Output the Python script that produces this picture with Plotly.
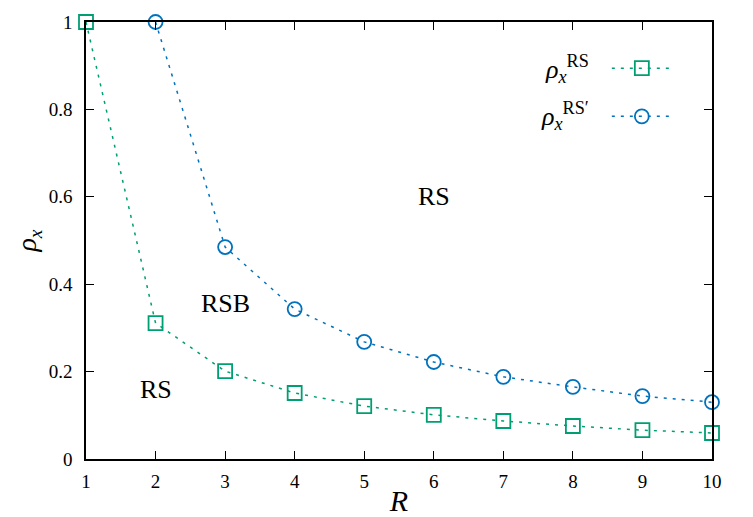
import plotly.graph_objects as go

R = [1, 2, 3, 4, 5, 6, 7, 8, 9, 10]
rho_rs = [1.0, 0.311, 0.201, 0.151, 0.121, 0.101, 0.087, 0.0755, 0.066, 0.0595]
R2 = [2, 3, 4, 5, 6, 7, 8, 9, 10]
rho_rs_prime = [1.0, 0.485, 0.343, 0.268, 0.222, 0.188, 0.165, 0.144, 0.130]

green = "#009e73"
blue = "#0072bd"
FONT = "Liberation Serif"

fig = go.Figure()
fig.add_trace(go.Scatter(
    x=R, y=rho_rs, mode="lines+markers", name="\u2009", legendgroup="a",
    line=dict(color=green, width=1.5, dash="3px,6px"),
    marker=dict(symbol="square-open", size=14, color=green, line=dict(width=1.8)),
    cliponaxis=False,
))
fig.add_trace(go.Scatter(
    x=R2, y=rho_rs_prime, mode="lines+markers", name="\u2009", legendgroup="b",
    line=dict(color=blue, width=1.5, dash="3px,6px"),
    marker=dict(symbol="circle-open", size=14, color=blue, line=dict(width=1.8)),
    cliponaxis=False,
))

axis_common = dict(
    showline=True, linecolor="black", linewidth=1.5, mirror="ticks",
    ticks="inside", ticklen=8, tickwidth=1.2, tickcolor="black",
    showgrid=False, zeroline=False, automargin=False,
    tickfont=dict(family=FONT, size=19, color="black"),
)
fig.update_xaxes(range=[1, 10], dtick=1, tick0=1, ticklabelstandoff=4,
                 title=dict(text="<i>R</i>", font=dict(family=FONT, size=30, color="black"), standoff=2),
                 **axis_common)
fig.update_yaxes(range=[0, 1], dtick=0.2, ticklabelstandoff=8,
                 title=dict(text="<i>ρ<sub>x</sub></i>", font=dict(family=FONT, size=28, color="black"), standoff=4),
                 **axis_common)

ann_font = dict(family=FONT, size=26, color="black")
fig.add_annotation(x=6, y=0.6, text="RS", showarrow=False, font=ann_font)
fig.add_annotation(x=3, y=0.355, text="RSB", showarrow=False, font=ann_font)
fig.add_annotation(x=2, y=0.16, text="RS", showarrow=False, font=ann_font)

leg_font = dict(family=FONT, size=26, color="black")
fig.add_annotation(xref="paper", yref="paper", x=0.806, y=0.892, xanchor="right", yanchor="middle",
                   text="<i>ρ</i><sub><i>x</i></sub><sup>RS</sup>", showarrow=False, font=leg_font)
fig.add_annotation(xref="paper", yref="paper", x=0.806, y=0.785, xanchor="right", yanchor="middle",
                   text="<i>ρ</i><sub><i>x</i></sub><sup>RS′</sup>", showarrow=False, font=leg_font)

fig.update_layout(
    width=753, height=517,
    margin=dict(l=86, r=41, t=22, b=58),
    plot_bgcolor="white", paper_bgcolor="white",
    font=dict(family=FONT, color="black"),
    showlegend=True,
    legend=dict(x=0.832, y=0.945, xanchor="left", yanchor="top",
                bgcolor="rgba(0,0,0,0)", tracegroupgap=14,
                font=dict(family=FONT, size=24), itemwidth=60),
)

fig.write_html("out.html")
